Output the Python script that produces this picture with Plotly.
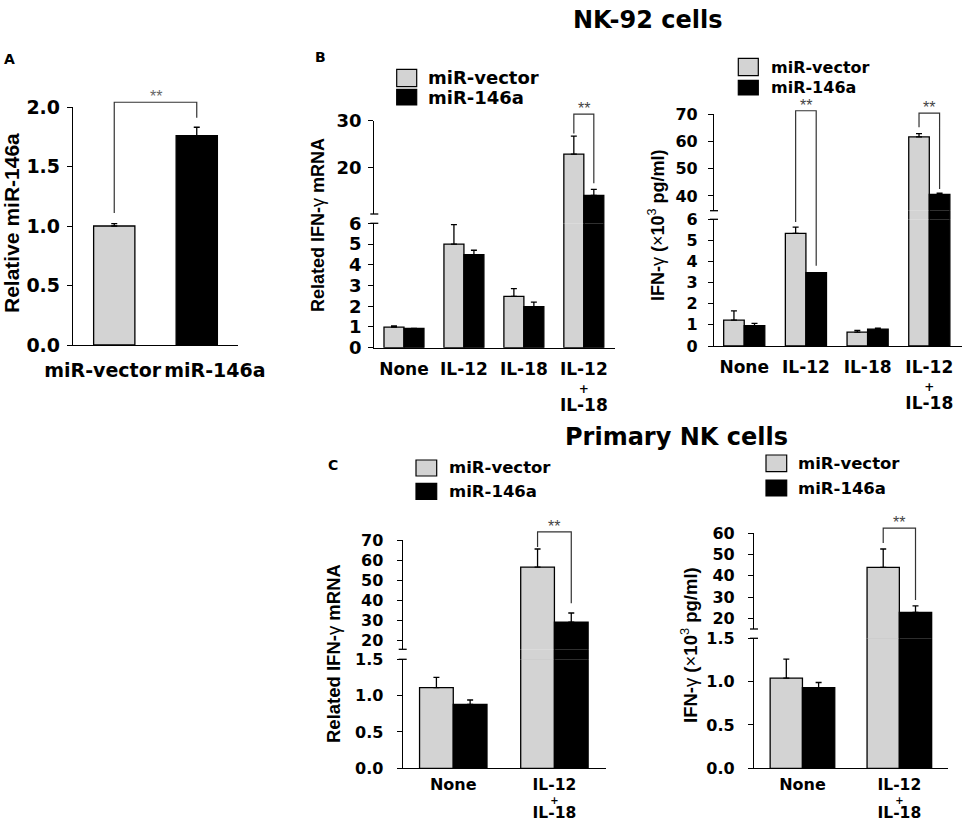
import plotly.graph_objects as go

W, H = 964, 823
GRAY = "#d3d3d3"
SANS = "DejaVu Sans"
ARIAL = "Liberation Sans"

# ---- data ----
groups_a = ["miR-vector", "miR-146a"]
rel_mir146a = [1.00, 1.76]
rel_mir146a_sd = [0.02, 0.07]

groups_nk92 = ["None", "IL-12", "IL-18", "IL-12 + IL-18"]
nk92_mrna_vector = [0.99, 5.00, 2.48, 22.9]
nk92_mrna_vector_sd = [0.06, 0.94, 0.37, 3.8]
nk92_mrna_mir = [0.93, 4.49, 1.98, 14.1]
nk92_mrna_mir_sd = [0.0, 0.21, 0.22, 1.3]
nk92_ifn_vector = [1.23, 5.33, 0.66, 61.7]
nk92_ifn_vector_sd = [0.43, 0.30, 0.08, 1.2]
nk92_ifn_mir = [0.96, 3.47, 0.80, 40.6]
nk92_ifn_mir_sd = [0.11, 0.0, 0.05, 0.4]

groups_prim = ["None", "IL-12 + IL-18"]
prim_mrna_vector = [1.11, 56.5]
prim_mrna_vector_sd = [0.14, 9.0]
prim_mrna_mir = [0.88, 29.0]
prim_mrna_mir_sd = [0.06, 4.6]
prim_ifn_vector = [1.04, 44.0]
prim_ifn_vector_sd = [0.22, 8.6]
prim_ifn_mir = [0.93, 22.8]
prim_ifn_mir_sd = [0.06, 3.0]

# tick labels
ticks_a = ["miR-vector", "miR-146a"]
tickpos_a = [-0.14, 1.22]          # labels sit a little wider apart than the bars
ticks_nk92 = ["<span style='font-size:17px'>None</span>",
              "<span style='font-size:17px'>IL-12</span>",
              "<span style='font-size:17px'>IL-18</span>",
              "<span style='font-size:17px'>IL-12</span><br><span style='font-size:12px'>+</span>"
              "<br><span style='font-size:17px'>IL-18</span>"]
ticks_prim = ["<span style='font-size:16px'>None</span>",
              "<span style='font-size:15.5px'>IL-12</span><br><span style='font-size:10px'>+</span>"
              "<br><span style='font-size:15.5px'>IL-18</span>"]

# significance brackets: (left pos, right pos, top, left leg end, right leg end)
sig_a = [(0, 1, 2.04, 1.11, 1.91)]
sig_nk92_mrna = [(3 - 1/6, 3 + 1/6, 31.4, 27.3, 16.7)]
sig_nk92_ifn = [(1 - 1/6, 1 + 1/6, 71.3, 5.87, 3.8), (3 - 1/6, 3 + 1/6, 70.4, 65.2, 42.6)]
sig_prim_mrna = [(1 - 1/6, 1 + 1/6, 74.1, 66.5, 38.4)]
sig_prim_ifn = [(1 - 1/6, 1 + 1/6, 62.4, 55.4, 28.6)]

fig = go.Figure()
layout = dict(template="none", width=W, height=H,
              margin=dict(l=0, r=0, t=0, b=0, pad=0, autoexpand=False),
              paper_bgcolor="white", plot_bgcolor="rgba(0,0,0,0)", barmode="group",
              bargap=1/3, bargroupgap=0, showlegend=False)
shapes, annotations = [], []
nx, ny = [0], [0]


def fx(x):
    return x / W


def fy(y):
    return 1 - y / H


def panel(px_x, xrange, cats, ticktext, xfont, segs, yfont, series, standoff=3, width=None,
          tickpos=None, xstandoff=0):
    nx[0] += 1
    xn = "x" if nx[0] == 1 else "x%d" % nx[0]
    ynames = []
    for s in segs:
        ny[0] += 1
        ynames.append("y" if ny[0] == 1 else "y%d" % ny[0])
    xpos = list(range(len(cats)))
    layout["xaxis" if nx[0] == 1 else "xaxis%d" % nx[0]] = dict(
        domain=[fx(px_x[0]), fx(px_x[1])], range=list(xrange), type="linear",
        anchor=ynames[0], tickmode="array",
        tickvals=tickpos if tickpos is not None else xpos, ticktext=ticktext, tickangle=0,
        ticks="", showgrid=False, zeroline=False, showline=True, linecolor="black",
        linewidth=1.3, automargin=False, ticklabelstandoff=xstandoff,
        tickfont=dict(family=SANS, size=xfont, weight="bold", color="black"), fixedrange=True)
    for k, (s, yn) in enumerate(zip(segs, ynames)):
        top, bot = s["px"]
        ax = dict(domain=[fy(bot), fy(top)], range=list(s["range"]), anchor=xn, showgrid=False,
                  zeroline=False, fixedrange=True, automargin=False)
        if s.get("ticks") is None:
            ax.update(visible=False)
        else:
            ax.update(showline=True, linecolor="black", linewidth=1.3, ticks="outside",
                      ticklen=5, tickwidth=1.3, tickcolor="black", tickvals=s["ticks"],
                      tickformat=s.get("fmt", ""), ticklabelstandoff=standoff,
                      tickfont=dict(family=SANS, size=yfont, weight="bold", color="black"))
        layout["yaxis" if yn == "y" else "yaxis" + yn[1:]] = ax
        lo = s["range"][0]
        for vals, sd, color in series:
            # upper segments only carry the bars that reach into them
            shown = vals if k == 0 else [v if v > lo else None for v in vals]
            fig.add_trace(go.Bar(
                x=xpos, y=shown, width=width, customdata=cats,
                marker=dict(color=color, line=dict(color="black", width=1.3)),
                error_y=dict(type="data", symmetric=False, array=sd, arrayminus=[0] * len(sd),
                             color="black", thickness=1.3, width=3),
                xaxis=xn, yaxis=yn, hovertemplate="%{customdata}: %{y}<extra></extra>"))
    # break marks on the axis line
    if len(segs) > 1:
        x0 = px_x[0]
        for py in (segs[0]["px"][0], segs[-1]["px"][1]):
            shapes.append(dict(type="line", xref="paper", yref="paper",
                               x0=fx(x0 - 4), x1=fx(x0 + 4), y0=fy(py), y1=fy(py),
                               line=dict(color="black", width=1.3)))
    return dict(x=px_x, xrange=xrange, segs=segs)


def val_py(p, v):
    segs = p["segs"]
    s = segs[0] if v <= segs[0]["range"][1] else segs[-1]
    top, bot = s["px"]
    lo, hi = s["range"]
    return bot - (v - lo) / (hi - lo) * (bot - top)


def pos_px(p, pos):
    x0, x1 = p["x"]
    r0, r1 = p["xrange"]
    return x0 + (pos - r0) / (r1 - r0) * (x1 - x0)


def brackets(p, specs, star_size=16, star_color="#444444"):
    for lp, rp, top, le, re_ in specs:
        xl, xr = pos_px(p, lp), pos_px(p, rp)
        yt, yl, yr = val_py(p, top), val_py(p, le), val_py(p, re_)
        path = "M %f,%f L %f,%f L %f,%f L %f,%f" % (
            fx(xl), fy(yl), fx(xl), fy(yt), fx(xr), fy(yt), fx(xr), fy(yr))
        shapes.append(dict(type="path", path=path, xref="paper", yref="paper",
                           line=dict(color="#333333", width=1.2)))
        annotations.append(dict(text="**", x=fx((xl + xr) / 2), y=fy(yt), xref="paper",
                                yref="paper", showarrow=False, xanchor="center", yanchor="bottom",
                                yshift=-4, borderpad=0,
                                font=dict(family=ARIAL, size=star_size, color=star_color)))


def legend(bx, gray_y, black_y, tx, size):
    for (y0, y1), color, label in ((gray_y, GRAY, "miR-vector"), (black_y, "black", "miR-146a")):
        shapes.append(dict(type="rect", xref="paper", yref="paper", x0=fx(bx[0]), x1=fx(bx[1]),
                           y0=fy(y1), y1=fy(y0), fillcolor=color,
                           line=dict(color="black", width=1.2)))
        annotations.append(dict(text=label, x=fx(tx), y=fy((y0 + y1) / 2), xref="paper",
                                yref="paper", showarrow=False, xanchor="left", yanchor="middle",
                                borderpad=0,
                                font=dict(family=SANS, size=size, weight="bold", color="black")))


def text(t, x, y, size, family=SANS, angle=0, bold=True, anchor="center"):
    annotations.append(dict(text=t, x=fx(x), y=fy(y), xref="paper", yref="paper",
                            showarrow=False, xanchor=anchor, yanchor="middle", textangle=angle,
                            font=dict(family=family, size=size, color="black",
                                      weight="bold" if bold else "normal")))


# ---- panel A ----
pa = panel((73, 238), (-0.5, 1.5), groups_a, ticks_a, 19,
           [dict(px=(107, 345), range=(0, 2.0), ticks=[0, 0.5, 1.0, 1.5, 2.0], fmt=".1f")], 19,
           [(rel_mir146a, rel_mir146a_sd, [GRAY, "black"])], width=0.5, tickpos=tickpos_a,
           xstandoff=8)
brackets(pa, sig_a, star_color="#666666")

# ---- panel B, NK-92 mRNA ----
pb1 = panel((374.3, 615), (-0.495, 3.52), groups_nk92, ticks_nk92, 14,
            [dict(px=(223.3, 347.7), range=(0, 6), ticks=[0, 1, 2, 3, 4, 5, 6]),
             dict(px=(214, 223.3), range=(6, 10.15)),
             dict(px=(120.7, 214), range=(10.15, 30), ticks=[20, 30])], 18,
            [(nk92_mrna_vector, nk92_mrna_vector_sd, GRAY), (nk92_mrna_mir, nk92_mrna_mir_sd, "black")],
            xstandoff=9)
brackets(pb1, sig_nk92_mrna)

# ---- panel B, NK-92 IFN-gamma protein ----
pb2 = panel((714, 962), (-0.49, 3.53), groups_nk92, ticks_nk92, 14,
            [dict(px=(219.3, 346), range=(0, 6), ticks=[0, 1, 2, 3, 4, 5, 6]),
             dict(px=(210.7, 219.3), range=(6, 34.6)),
             dict(px=(114.3, 210.7), range=(34.6, 70), ticks=[40, 50, 60, 70])], 16,
            [(nk92_ifn_vector, nk92_ifn_vector_sd, GRAY), (nk92_ifn_mir, nk92_ifn_mir_sd, "black")],
            standoff=7, xstandoff=9)
brackets(pb2, sig_nk92_ifn)

# ---- panel C, primary NK mRNA ----
pc1 = panel((402.7, 606), (-0.5, 1.51), groups_prim, ticks_prim, 11,
            [dict(px=(659.3, 768.3), range=(0, 1.5), ticks=[0, 0.5, 1.0, 1.5], fmt=".1f"),
             dict(px=(649.3, 659.3), range=(1.5, 15.5)),
             dict(px=(540, 649.3), range=(15.5, 70), ticks=[20, 30, 40, 50, 60, 70])], 16,
            [(prim_mrna_vector, prim_mrna_vector_sd, GRAY), (prim_mrna_mir, prim_mrna_mir_sd, "black")],
            standoff=10, xstandoff=7)
brackets(pc1, sig_prim_mrna)

# ---- panel C, primary NK IFN-gamma protein ----
pc2 = panel((754, 948.3), (-0.5, 1.505), groups_prim, ticks_prim, 11,
            [dict(px=(638.3, 768.3), range=(0, 1.5), ticks=[0, 0.5, 1.0, 1.5], fmt=".1f"),
             dict(px=(629, 638.3), range=(1.5, 14.96)),
             dict(px=(533.3, 629), range=(14.96, 60), ticks=[20, 30, 40, 50, 60])], 16,
            [(prim_ifn_vector, prim_ifn_vector_sd, GRAY), (prim_ifn_mir, prim_ifn_mir_sd, "black")],
            standoff=10, xstandoff=7)
brackets(pc2, sig_prim_ifn)

# ---- legends ----
legend((396.7, 416.7), (69.3, 86.7), (89.3, 105), 426.7, 18)
legend((738.3, 758.3), (58.3, 75.7), (80.3, 95), 770, 16)
legend((416, 436.7), (460, 476), (483.3, 499.3), 448.3, 16.5)
legend((766, 786.7), (455, 471.7), (480, 496), 796.7, 16.5)

# ---- titles, panel letters, axis titles ----
text("NK-92 cells", 647.5, 20, 24)
text("Primary NK cells", 676, 437, 24)
text("A", 9, 59, 14)
text("B", 320, 57, 14)
text("C", 333, 465, 14)
text("<b>Relative miR-146a</b>", 12, 223, 21, family=ARIAL, angle=-90, bold=False)
text("<b>Related IFN-</b>γ<b> mRNA</b>", 318, 225, 18, family=ARIAL, angle=-90, bold=False)
text("<b>IFN-</b>γ<b> (</b>×<b>10</b><sup>3</sup><b> pg/ml)</b>", 656, 225, 18,
     family=ARIAL, angle=-90, bold=False)
text("<b>Related IFN-</b>γ<b> mRNA</b>", 333, 654, 18.5, family=ARIAL, angle=-90, bold=False)
text("<b>IFN-</b>γ<b> (</b>×<b>10</b><sup>3</sup><b> pg/ml)</b>", 689, 645, 18.5,
     family=ARIAL, angle=-90, bold=False)

layout["shapes"] = shapes
layout["annotations"] = annotations
fig.update_layout(**layout)

# drop the browser's default 8 px body margin so the figure fills the window exactly
fig.write_html("out.html", config={"displayModeBar": False},
               post_script="document.body.style.margin='0px';")
